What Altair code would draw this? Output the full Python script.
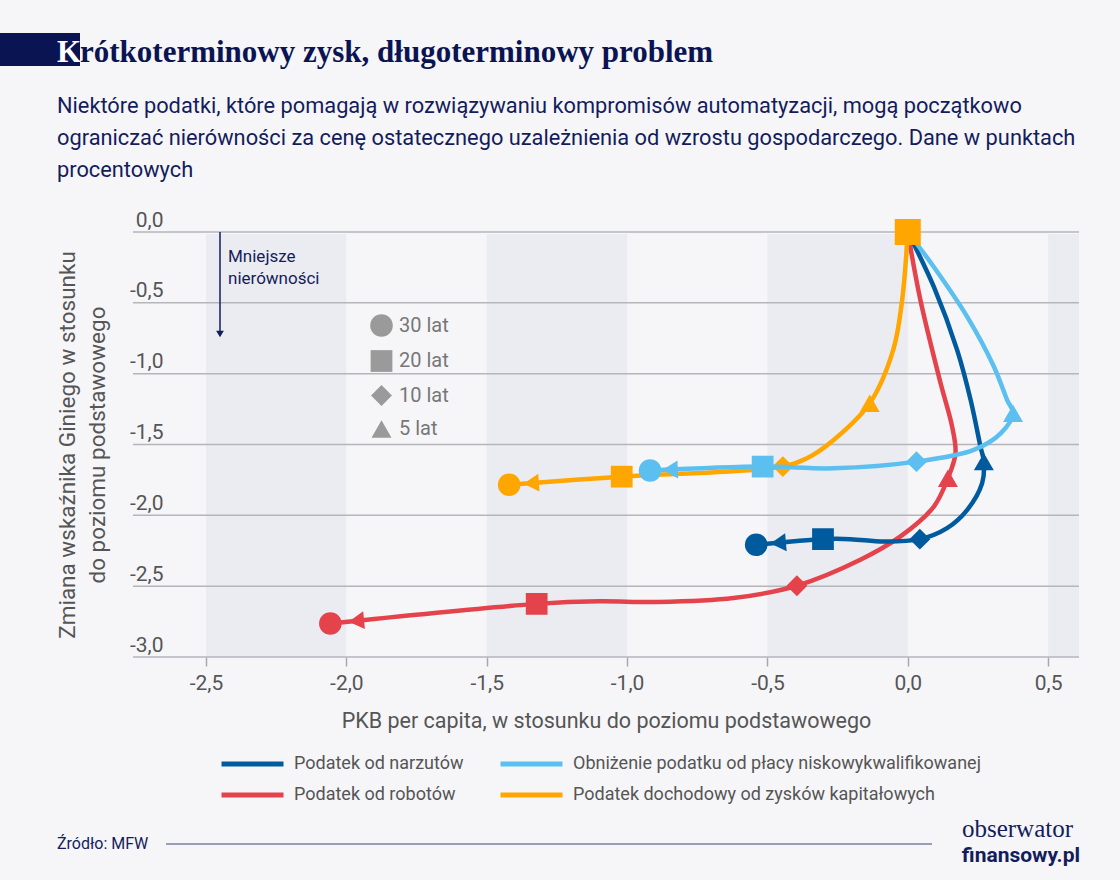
import altair as alt
import pandas as pd

# ---------------- data ----------------
S_NARZ = "Podatek od narzutów"
S_NISKO = "Obniżenie podatku od płacy niskowykwalifikowanej"
S_ROBOT = "Podatek od robotów"
S_KAPIT = "Podatek dochodowy od zysków kapitałowych"
legend_order = [S_NARZ, S_ROBOT, S_NISKO, S_KAPIT]
series_colors = ["#005a9e", "#e4434c", "#5bc0f0", "#ffa600"]

horizons = ["30 lat", "20 lat", "10 lat", "5 lat"]
horizon_shapes = ["circle", "square", "diamond", "triangle-up"]

x_ticks = [-2.5, -2.0, -1.5, -1.0, -0.5, 0.0, 0.5]
y_ticks = [0.0, -0.5, -1.0, -1.5, -2.0, -2.5, -3.0]
band_from = [-2.5, -1.5, -0.5, 0.5]
band_to = [-2.0, -1.0, 0.0, 1.0]

# paths: x = PKB per capita change, y = Gini change ("" = point on the curve without a marker)
narz_x = [0.0, 0.093, 0.176, 0.224, 0.259, 0.271, 0.265, 0.212, 0.14, 0.043, -0.086, -0.204, -0.302, -0.54]
narz_y = [0.0, -0.388, -0.834, -1.186, -1.515, -1.621, -1.773, -1.961, -2.09, -2.168, -2.185, -2.168, -2.168, -2.208]
narz_m = ["start", "", "", "", "", "5 lat", "", "", "", "10 lat", "", "", "20 lat", "30 lat"]

nisko_x = [0.0, 0.093, 0.212, 0.307, 0.354, 0.375, 0.331, 0.235, 0.031, -0.264, -0.517, -0.918]
nisko_y = [0.0, -0.247, -0.599, -0.951, -1.186, -1.28, -1.421, -1.538, -1.621, -1.668, -1.656, -1.684]
nisko_m = ["start", "", "", "", "", "5 lat", "", "", "10 lat", "", "20 lat", "30 lat"]

robot_x = [0.0, 0.045, 0.117, 0.158, 0.17, 0.143, 0.093, -0.026, -0.169, -0.395, -0.621, -0.894, -1.1, -1.322, -2.057]
robot_y = [0.0, -0.48, -1.068, -1.374, -1.562, -1.738, -1.938, -2.149, -2.314, -2.497, -2.584, -2.612, -2.607, -2.625, -2.763]
robot_m = ["start", "", "", "", "", "5 lat", "", "", "", "10 lat", "", "", "", "20 lat", "30 lat"]

kapit_x = [0.0, -0.02, -0.052, -0.1355, -0.264, -0.359, -0.445, -1.019, -1.42]
kapit_y = [0.0, -0.48, -0.834, -1.209, -1.468, -1.597, -1.656, -1.727, -1.784]
kapit_m = ["start", "", "", "5 lat", "", "", "10 lat", "20 lat", "30 lat"]

paths = {
    S_NARZ: (narz_x, narz_y, narz_m),
    S_NISKO: (nisko_x, nisko_y, nisko_m),
    S_ROBOT: (robot_x, robot_y, robot_m),
    S_KAPIT: (kapit_x, kapit_y, kapit_m),
}

rows = []
for name, (xs, ys, ms) in paths.items():
    for i, (a, b, m) in enumerate(zip(xs, ys, ms)):
        rows.append({"series": name, "step": i, "x": a, "y": b, "mark": m})
df = pd.DataFrame(rows)
band_df = pd.DataFrame({"b0": band_from, "b1": band_to})
tick_df = pd.DataFrame({"t": y_ticks})

# ---------------- styles ----------------
NAVY = "#141d5c"
GRAY = "#555555"
W, H = 946, 425
draw_order = [S_ROBOT, S_NARZ, S_KAPIT, S_NISKO]
arrow_style = {  # xOffset, yOffset, angle
    S_ROBOT: (26, -2.5, 354.5),
    S_NARZ: (22, -1.9, 355),
    S_KAPIT: (22, -1.6, 356),
    S_NISKO: (20, -0.8, 358),
}
marker_sizes = [510, 400, 530, 560]

lbl = "replace(replace(format(datum.value, '.1f'), '.', ','), '\u2212', '-')"

x_scale = alt.Scale(domain=[-2.76, 0.61], nice=False, zero=False)
y_scale = alt.Scale(domain=[-3.0, 0.0], nice=False, zero=False)
color_scale = alt.Scale(domain=legend_order, range=series_colors)
shape_scale = alt.Scale(domain=horizons, range=horizon_shapes)
size_scale = alt.Scale(domain=horizons, range=marker_sizes)

x_axis = alt.Axis(values=x_ticks, grid=False, domain=False, ticks=True, tickSize=9,
                  tickColor="#a8a8b0", tickWidth=1.5, labelPadding=6, labelFont="Roboto",
                  labelFontSize=21, labelColor=GRAY, labelExpr=lbl, labelFlush=False,
                  title="PKB per capita, w stosunku do poziomu podstawowego",
                  titleFont="Roboto", titleFontSize=21.5,
                  titleFontWeight="normal", titleColor=GRAY, titlePadding=17)
y_axis = alt.Axis(values=y_ticks, grid=False, domain=False, ticks=False, labelAlign="right",
                  labelPadding=-30, labelBaseline="alphabetic", labelOffset=-6,
                  labelFont="Roboto", labelFontSize=21, labelColor=GRAY, labelExpr=lbl,
                  labelFlush=False, labelOverlap=False,
                  title=["Zmiana wskaźnika Giniego w stosunku", "do poziomu podstawowego"],
                  titleFont="Roboto", titleFontSize=22.5, titleFontWeight="normal",
                  titleLineHeight=30, titleColor=GRAY, titlePadding=20)

color_legend = alt.Legend(title=None, orient="none", legendX=86, legendY=521, columns=2,
                          symbolType="stroke", symbolStrokeWidth=5, symbolSize=3844,
                          clipHeight=22, labelLimit=600,
                          labelFont="Roboto", labelFontSize=18, labelColor=GRAY,
                          columnPadding=34, rowPadding=9, labelOffset=8, padding=0)
shape_legend = alt.Legend(title=None, orient="none", legendX=237, legendY=82,
                          symbolFillColor="#9a9a9a", symbolStrokeWidth=0, symbolOpacity=1,
                          labelFont="Roboto", labelFontSize=20, labelColor="#777777",
                          rowPadding=13, labelOffset=6, padding=0)


def X(f):
    return alt.X(f, type="quantitative", scale=x_scale, axis=x_axis)


def Y(f):
    return alt.Y(f, type="quantitative", scale=y_scale, axis=y_axis)


COLOR = alt.Color("series:N", scale=color_scale, legend=color_legend)

layers = []
layers.append(alt.Chart(band_df).mark_rect(color="#ebecf1", clip=True).encode(
    x=X("b0"), x2=alt.X2("b1"), y=alt.value(2), y2=alt.value(H)))
layers.append(alt.Chart(tick_df).mark_rule(color="#b5b5bc", strokeWidth=1.5).encode(
    y=Y("t"), x=alt.value(0), x2=alt.value(W)))

for name in draw_order:
    sub = alt.Chart(df).transform_filter(alt.datum.series == name)
    layers.append(sub.mark_line(interpolate="catmull-rom", strokeWidth=4.5).encode(
        x=X("x"), y=Y("y"), color=COLOR, order=alt.Order("step:Q")))
    xo, yo, ang = arrow_style[name]
    layers.append(sub.transform_filter(alt.datum.mark == "30 lat").mark_point(
        shape="triangle-left", filled=True, opacity=1, size=320, xOffset=xo, yOffset=yo,
        angle=ang).encode(x=X("x"), y=Y("y"), color=COLOR))
    layers.append(sub.transform_filter(alt.FieldOneOfPredicate(field="mark", oneOf=horizons))
                  .mark_point(filled=True, opacity=1).encode(
        x=X("x"), y=Y("y"), color=COLOR,
        shape=alt.Shape("mark:N", scale=shape_scale, legend=shape_legend),
        size=alt.Size("mark:N", scale=size_scale, legend=shape_legend)))

layers.append(alt.Chart(df).transform_filter(
    (alt.datum.series == S_KAPIT) & (alt.datum.mark == "start")).mark_point(
    shape="square", filled=True, opacity=1, size=676).encode(x=X("x"), y=Y("y"), color=COLOR))

ann = alt.Data(values=[{"a": 1}])


def txt(text, x, y, **kw):
    return alt.Chart(ann).mark_text(**kw).encode(
        x=alt.value(x), y=alt.value(y), text=alt.value(text))


# annotation arrow "Mniejsze nierówności"
layers.append(alt.Chart(ann).mark_rule(color=NAVY, strokeWidth=1.5).encode(
    x=alt.value(87), y=alt.value(0), y2=alt.value(100)))
layers.append(alt.Chart(ann).mark_point(shape="triangle-down", filled=True, opacity=1,
                                        size=60, color=NAVY).encode(
    x=alt.value(87), y=alt.value(102)))
layers.append(txt(["Mniejsze", "nierówności"], 95, 25, align="left", baseline="middle",
                  font="Roboto", fontSize=17, color=NAVY, lineHeight=22))

# title block
layers.append(alt.Chart(ann).mark_rect(color="#0b1452").encode(
    x=alt.value(-133), x2=alt.value(-53), y=alt.value(-199), y2=alt.value(-166)))
layers.append(txt("K", -76, -170, align="left", baseline="alphabetic",
                  font="Liberation Serif", fontWeight="bold", fontSize=31, color="#ffffff"))
layers.append(txt("rótkoterminowy zysk, długoterminowy problem", -53, -170, align="left",
                  baseline="alphabetic", font="Liberation Serif", fontWeight="bold",
                  fontSize=31, color="#0b1452"))
layers.append(txt(["Niektóre podatki, które pomagają w rozwiązywaniu kompromisów automatyzacji, mogą początkowo",
                   "ograniczać nierówności za cenę ostatecznego uzależnienia od wzrostu gospodarczego. Dane w punktach",
                   "procentowych"], -76, -119, align="left", baseline="alphabetic", font="Roboto",
                  fontSize=21.8, color=NAVY, lineHeight=32))

# footer
layers.append(txt("Źródło: MFW", -76, 612, align="left", baseline="middle", font="Roboto",
                  fontSize=16, color=NAVY))
layers.append(alt.Chart(ann).mark_rule(color="#3a4478", strokeWidth=1.2).encode(
    x=alt.value(33), x2=alt.value(799), y=alt.value(612)))
layers.append(txt("obserwator", 940, 605, align="right", baseline="alphabetic",
                  font="Liberation Serif", fontSize=25, color=NAVY))
layers.append(txt("finansowy.pl", 947, 613, align="right", baseline="top",
                  font="Roboto", fontWeight="bold", fontSize=21, color=NAVY))

chart = alt.layer(*layers).properties(
    width=W, height=H,
    padding={"left": 133, "top": 232, "right": 41, "bottom": 223},
    autosize=alt.AutoSizeParams(type="none"),
).configure(background="#f6f6f9", font="Roboto").configure_view(strokeWidth=0)

chart.save("out.html", embed_options={"renderer": "svg", "actions": False})
